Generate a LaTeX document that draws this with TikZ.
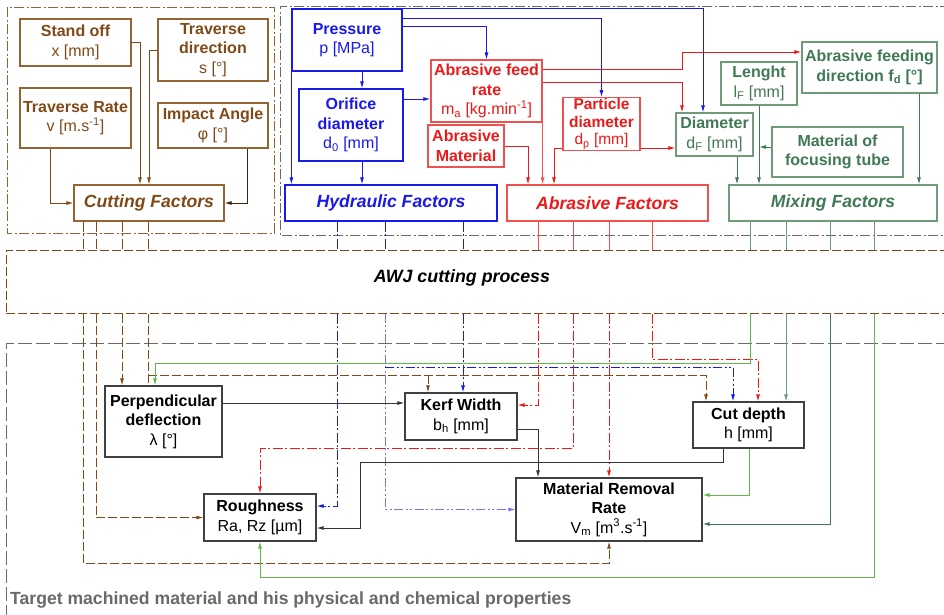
\documentclass[tikz,border=0pt]{standalone}
\usepackage{fontspec}
\setmainfont{Liberation Sans}
\usetikzlibrary{arrows.meta}

\definecolor{cutbrown}{RGB}{128,74,24}
\definecolor{cutline}{RGB}{150,100,50}
\definecolor{hydblue}{RGB}{25,25,235}
\definecolor{abrred}{RGB}{235,25,25}
\definecolor{abrline}{RGB}{240,80,80}
\definecolor{mixgreen}{RGB}{65,120,85}
\definecolor{mixline}{RGB}{110,155,120}
\definecolor{litegreen}{RGB}{95,185,70}
\definecolor{framegray}{RGB}{105,105,105}

\newcommand{\unitline}[1]{\\\mdseries #1}

\tikzset{
  box/.style={draw, line width=1.2pt, inner sep=1pt, align=center,
    font=\fontsize{16}{19.5}\selectfont\bfseries},
  cutbox/.style={box, draw=cutline, text=cutbrown},
  hydbox/.style={box, draw=hydblue, text=hydblue},
  abrbox/.style={box, draw=abrline, text=abrred},
  mixbox/.style={box, draw=mixline, text=mixgreen},
  outbox/.style={box, draw=black!75, text=black},
  factor/.style={minimum height=36pt, font=\fontsize{17.6}{20}\selectfont\bfseries\itshape},
  conn/.style={line width=0.9pt, -{Latex[length=7pt,width=4pt]}},
  ddot/.style={dash pattern=on 10pt off 2.5pt on 2pt off 2.5pt},
  dddot/.style={dash pattern=on 9pt off 2.5pt on 2pt off 2.5pt on 2pt off 2.5pt},
  longdash/.style={dash pattern=on 9pt off 3pt},
  longgray/.style={dash pattern=on 14pt off 4pt}
}

\begin{document}
\begin{tikzpicture}[x=1pt,y=-1pt]
\useasboundingbox (0,0) rectangle (944,614);

% frames of the groups
\draw[cutline, ddot, line width=1pt] (7,7) rectangle (274,233);
\draw[framegray, ddot, line width=1pt] (950,6) -| (280,235) -- (950,235);
\draw[framegray, longgray, line width=1pt] (950,343) -| (6,620);

% cutting factors
\node[cutbox, minimum width=111pt, minimum height=47pt] (standoff) at (75.5,42.5) {Stand off\unitline{x [mm]}};
\node[cutbox, minimum width=110pt, minimum height=62pt] (travdir) at (213,50) {Traverse\\direction\unitline{s [°]}};
\node[cutbox, minimum width=111pt, minimum height=60pt] (travrate) at (75.5,118) {Traverse Rate\unitline{v [m.s\textsuperscript{-1}]}};
\node[cutbox, minimum width=110pt, minimum height=45pt] (impact) at (213,125.5) {Impact Angle\unitline{φ [°]}};
\node[cutbox, factor, minimum width=150pt] (cutfac) at (149,203) {Cutting Factors};

% hydraulic factors
\node[hydbox, minimum width=110pt, minimum height=62pt] (pressure) at (347,40) {Pressure\unitline{p [MPa]}};
\node[hydbox, minimum width=104pt, minimum height=72pt] (orifice) at (351,125) {Orifice\\diameter\unitline{d\textsubscript{0} [mm]}};
\node[hydbox, factor, minimum width=212pt] (hydfac) at (391,203) {Hydraulic Factors};

% abrasive factors
\node[abrbox, minimum width=111pt, minimum height=62pt] (feedrate) at (486.5,91) {Abrasive feed\\rate\unitline{m\textsubscript{a} [kg.min\textsuperscript{-1}]}};
\node[abrbox, minimum width=76pt, minimum height=42pt] (abrmat) at (466,146) {Abrasive\\Material};
\node[abrbox, minimum width=77pt, minimum height=50pt, font=\fontsize{15.5}{17.5}\selectfont\bfseries] (partdia) at (601.5,124) {Particle\\diameter\unitline{d\textsubscript{p} [mm]}};
\node[abrbox, factor, minimum width=201pt] (abrfac) at (607.5,203) {Abrasive Factors};

% mixing factors
\node[mixbox, minimum width=77pt, minimum height=43pt] (diam) at (714.5,134.5) {Diameter\unitline{d\textsubscript{F} [mm]}};
\node[mixbox, minimum width=76pt, minimum height=43pt] (lenght) at (759,83.5) {Lenght\unitline{l\textsubscript{F} [mm]}};
\node[mixbox, minimum width=135pt, minimum height=51pt] (feeddir) at (869.5,67.5) {Abrasive feeding\\direction f\textsubscript{d} [°]};
\node[mixbox, minimum width=131pt, minimum height=50pt] (tube) at (837.5,152) {Material of\\focusing tube};
\node[mixbox, factor, minimum width=208pt] (mixfac) at (833,203) {Mixing Factors};

% process
\node[draw=cutbrown, longdash, line width=1pt, minimum width=944pt, minimum height=63pt] (awj) at (478,281.5) {};
\node[font=\fontsize{17.8}{20}\selectfont\bfseries\itshape] (awjtext) at (462,278) {AWJ cutting process};

% results
\node[outbox, minimum width=117pt, minimum height=71pt] (perp) at (163.5,421.5) {Perpendicular\\deflection\unitline{λ [°]}};
\node[outbox, minimum width=112pt, minimum height=47pt] (kerf) at (461,416.5) {Kerf Width\unitline{b\textsubscript{h} [mm]}};
\node[outbox, minimum width=111pt, minimum height=46pt] (cutdepth) at (748.5,425) {Cut depth\unitline{h [mm]}};
\node[outbox, minimum width=112pt, minimum height=47pt] (rough) at (260,517.5) {Roughness\unitline{Ra, Rz [µm]}};
\node[outbox, minimum width=186pt, minimum height=63pt] (mrr) at (609,509.5) {Material Removal\\Rate\unitline{V\textsubscript{m} [m\textsuperscript{3}.s\textsuperscript{-1}]}};

\node[anchor=west, text=framegray, inner sep=0pt, font=\fontsize{17.6}{20}\selectfont\bfseries] (target) at (10,600) {Target machined material and his physical and chemical properties};

% inputs of the cutting factors
\draw[conn, cutbrown] (standoff.east) -| (cutfac.north -| 140,0);
\draw[conn, cutbrown] (travdir.west) -| (cutfac.north -| 149,0);
\draw[conn, cutbrown] (travrate.south -| 50,0) |- (cutfac.west);
\draw[conn, cutbrown!50!black] (impact.south -| 247,0) |- (cutfac.east);

% inputs of the hydraulic and abrasive factors
\draw[conn, hydblue] (pressure.south west) -- (hydfac.north -| pressure.south west);
\draw[conn, hydblue] (pressure.south -| 362,0) -- (orifice.north -| 362,0);
\draw[conn, hydblue] (orifice.south -| 362,0) -- (hydfac.north -| 362,0);
\draw[conn, hydblue] (orifice.east |- 0,99) -- (feedrate.west |- 0,99);
\draw[conn, hydblue] (pressure.east |- 0,26) -| (feedrate.north);
\draw[conn, hydblue] (pressure.east |- 0,18) -| (partdia.north);
\draw[conn, hydblue] (pressure.north east) -| (diam.north -| 703,0);
\draw[conn, abrred] (feedrate.east |- 0,69) -| (682,52) -- (feeddir.west |- 0,52);
\draw[conn, abrred] (feedrate.east |- 0,82) -| (diam.north -| 682,0);
\draw[conn, abrline] (feedrate.south east) -- (abrfac.north -| feedrate.south east);
\draw[conn, abrred] (abrmat.east) -| (abrfac.north -| 528,0);
\draw[conn, abrred] (partdia.west |- 0,148) -| (abrfac.north -| 554,0);
\draw[conn, abrred] (partdia.east |- 0,148) -- (diam.west |- 0,148);

% inputs of the mixing factors
\draw[conn, mixgreen] (diam.south -| 737,0) -- (mixfac.north -| 737,0);
\draw[conn, mixgreen] (lenght.south) -- (mixfac.north -| lenght.south);
\draw[conn, mixgreen] (tube.west |- 0,147) -- (lenght.south |- 0,147);
\draw[conn, mixgreen] (feeddir.south -| 919,0) -- (mixfac.north -| 919,0);

% factors into the process
\foreach \x in {83,96,122,148}
  \draw[cutbrown, ddot, line width=0.9pt] (cutfac.south -| \x,0) -- (awj.north -| \x,0);
\foreach \x in {337,385,463}
  \draw[hydblue, ddot, line width=0.9pt] (hydfac.south -| \x,0) -- (awj.north -| \x,0);
\foreach \x in {538,573,609,652}
  \draw[abrline, line width=0.9pt] (abrfac.south -| \x,0) -- (awj.north -| \x,0);
\foreach \x in {750,786,830,874}
  \draw[mixline, line width=0.9pt] (mixfac.south -| \x,0) -- (awj.north -| \x,0);

% process into the results
\draw[conn, cutbrown, longdash] (awj.south -| 83,0) |- (mrr.south |- 0,563) -- (mrr.south);
\draw[conn, cutbrown, longdash] (awj.south -| 96,0) |- (rough.west);
\draw[conn, cutbrown, longdash] (awj.south -| 122,0) -- (perp.north -| 122,0);
\draw[cutbrown, longdash, line width=0.9pt] (awj.south -| 148,0) -- (perp.north -| 148,0);
\draw[conn, cutbrown, longdash] (148,375) -| (cutdepth.north -| 706,0);
\draw[conn, cutbrown, longdash] (428,375) -- (kerf.north -| 428,0);

\draw[conn, hydblue, ddot] (awj.south -| 337,0) |- (rough.east |- 0,506);
\draw[conn, hydblue!60, dddot] (awj.south -| 385,0) |- (mrr.west);
\draw[conn, hydblue, dddot] (385,367) -| (cutdepth.north -| 733,0);
\draw[conn, hydblue, ddot] (awj.south -| 463,0) -- (kerf.north -| 463,0);

\draw[conn, abrred, ddot] (awj.south -| 538,0) |- (kerf.east |- 0,405);
\draw[conn, abrred, ddot] (awj.south -| 573,0) |- (rough.north |- 0,448) -- (rough.north);
\draw[conn, abrred, ddot] (awj.south -| mrr.north) -- (mrr.north);
\draw[conn, abrred, ddot] (awj.south -| 652,0) -- (652,359) -| (cutdepth.north -| 758,0);

\draw[conn, litegreen] (awj.south -| 750,0) -- (750,363) -| (perp.north -| 155,0);
\draw[conn, mixline] (awj.south -| 786,0) -- (cutdepth.north -| 786,0);
\draw[conn, mixgreen] (awj.south -| 830,0) |- (mrr.east |- 0,524);
\draw[conn, litegreen] (awj.south -| 874,0) |- (rough.south |- 0,577) -- (rough.south);

% between the results
\draw[conn, black!80] (perp.east |- 0,403) -- (kerf.west |- 0,403);
\draw[conn, black!80] (kerf.east |- 0,429) -| (mrr.north -| 538,0);
\draw[conn, black!80] (cutdepth.south -| 723,0) |- (360,462) |- (rough.east |- 0,528);
\draw[conn, litegreen] (cutdepth.south -| 749,0) |- (mrr.east |- 0,495);
\end{tikzpicture}
\end{document}
